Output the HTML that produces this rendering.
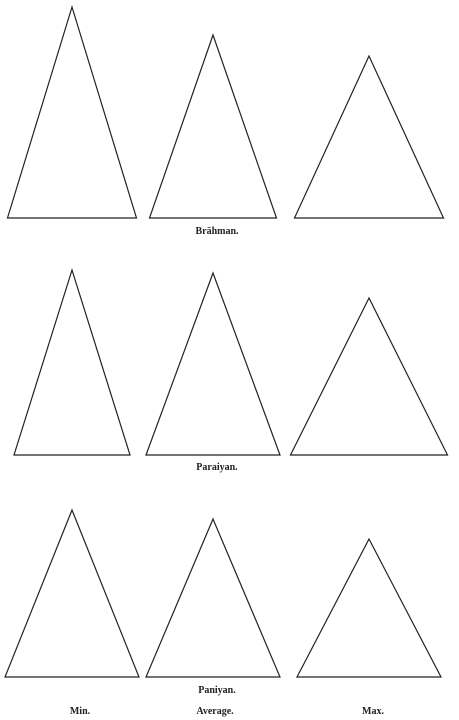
<!DOCTYPE html>
<html><head><meta charset="utf-8"><style>
html,body{margin:0;padding:0;background:#fff;width:459px;height:720px;overflow:hidden}
svg{display:block}
text{font-family:"Liberation Serif",serif;font-weight:bold;font-size:10px;fill:#222;text-anchor:middle}
</style></head><body>
<svg id="chart" width="459" height="720" viewBox="0 0 459 720"></svg>
<script>
const groups = ["Brāhman.", "Paraiyan.", "Paniyan."];
const columns = ["Min.", "Average.", "Max."];
const heights = [[211, 183, 162], [185, 182, 157], [167, 158, 138]];
const widths = [[129, 127, 149], [116, 134, 157], [134, 134, 144]];

const NS = "http://www.w3.org/2000/svg";
const svg = document.getElementById("chart");
const colX = [72, 213, 369];
const baseY = [218, 455, 677];
const labelY = [234, 470, 693];

function mk(tag, attrs) {
  const e = document.createElementNS(NS, tag);
  for (const k in attrs) e.setAttribute(k, attrs[k]);
  svg.appendChild(e);
  return e;
}
for (let r = 0; r < groups.length; r++) {
  for (let c = 0; c < columns.length; c++) {
    const h = heights[r][c], w = widths[r][c];
    const cx = colX[c], by = baseY[r];
    const pts = `${cx},${by - h} ${cx - w / 2},${by} ${cx + w / 2},${by}`;
    const p = mk("polygon", {points: pts, fill: "none", stroke: "#222", "stroke-width": 1.2, "stroke-linejoin": "miter"});
    
    
  }
  const t = mk("text", {x: 217, y: labelY[r]});
  t.textContent = groups[r];
  
  
}
for (let c = 0; c < columns.length; c++) {
  const t = mk("text", {x: [80, 215, 373][c], y: 714});
  t.textContent = columns[c];
  
  
}
</script>
</body></html>
